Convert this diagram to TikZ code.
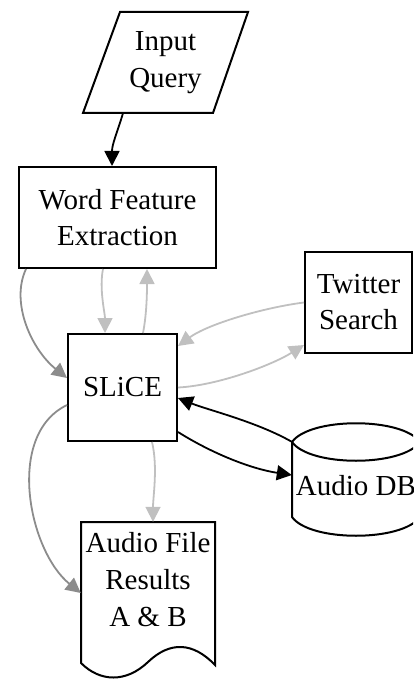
\documentclass[tikz,border=0pt]{standalone}
\usepackage{fontspec}
\setmainfont{Liberation Serif}
\usetikzlibrary{arrows.meta,calc}
\definecolor{edgegray}{RGB}{140,140,140}
\definecolor{palegray}{RGB}{192,192,192}

\begin{document}
\begin{tikzpicture}[x=1pt,y=-1pt,
        box/.style={rectangle, draw, line width=2pt, align=center, inner sep=0pt, font=\fontsize{29}{36}\selectfont},
        plain/.style={rectangle, align=center, inner sep=0pt, font=\fontsize{29}{37}\selectfont},
        outline/.style={line width=2pt, line join=miter},
        arrow/.style={-{Triangle[length=15pt,width=15pt]}, line width=1.8pt}
    ]
        \clip (0,0) rectangle (413,679);

        \node[plain, minimum width=165pt, minimum height=101pt] (inq) at (165.5,62.5) {Input\\Query};
        \node[box, minimum width=197pt, minimum height=101pt] (wfe) at (117.5,217.5) {Word Feature\\Extraction};
        \node[box, minimum width=107pt, minimum height=101pt] (tw) at (358.5,302.5) {Twitter\\Search};
        \node[box, minimum width=109pt, minimum height=107pt] (slice) at (122.5,387.5) {SLiCE};
        \node[plain, minimum width=128pt, minimum height=88pt] (db) at (356,486) {Audio DB};
        \node[plain, minimum width=134pt, minimum height=116pt] (doc) at (148,580) {Audio File\\Results\\A \& B};

        % outlines of the non-rectangular nodes
        \begin{scope}[shift={(inq.center)}]
            \draw[outline] (-45.5,-50.5) -- (82.5,-50.5) -- (47.5,50.5) -- (-82.5,50.5) -- cycle;
        \end{scope}
        \begin{scope}[shift={(db.center)}]
            \draw[outline] (-64,-44) .. controls (-46,-69) and (46,-69) .. (64,-44);
            \draw[outline] (-64,-44) .. controls (-46,-19) and (46,-19) .. (64,-44);
            \draw[outline] (-64,-44) -- (-64,31) .. controls (-46,56) and (46,56) .. (64,31) -- (64,-44);
        \end{scope}
        \begin{scope}[shift={(doc.center)}]
            \draw[outline] (-67,-58) -- (67,-58) -- (67,85)
                .. controls (45,62) and (22,61) .. (0,82)
                .. controls (-22,103) and (-48,102) .. (-67,83) -- cycle;
        \end{scope}

        \draw[arrow] ([xshift=-42.5pt]inq.south) .. controls +(-6,20) and +(0,-22) .. ([xshift=-5.5pt]wfe.north);
        \draw[arrow, edgegray] ([xshift=8pt]wfe.south west) .. controls +(-16,34) and +(-35,-28) .. ([yshift=9.5pt]slice.west);
        \draw[arrow, palegray] ([xshift=-14.5pt]wfe.south) .. controls +(-4,20) and +(0,-20) .. ([xshift=-17.5pt]slice.north);
        \draw[arrow, palegray] ([xshift=20.5pt]slice.north) .. controls +(4,-20) and +(0,20) .. ([xshift=29.5pt]wfe.south);
        \draw[arrow, palegray] (tw.west) .. controls +(-40,5) and +(30,-22) .. ([yshift=-13pt]slice.north east);
        \draw[arrow, palegray] (slice.east) .. controls +(40,-2) and +(-32,20) .. ([yshift=-42.5pt]tw.west);
        \draw[arrow] (db.north west) .. controls +(-35,-20) and +(30,12) .. ([yshift=-10.5pt]slice.east);
        \draw[arrow] ([yshift=-44.5pt]slice.east) .. controls +(35,22) and +(-40,-6) .. ([yshift=11pt]db.west);
        \draw[arrow, palegray] ([xshift=29.5pt]slice.south) .. controls +(6,25) and +(0,-25) .. ([xshift=5pt]doc.north);
        \draw[arrow, edgegray] ([yshift=-17.5pt]slice.west) .. controls +(-62,30) and +(-52,-42) .. ([yshift=-13pt]doc.west);
    \end{tikzpicture}
\end{document}
